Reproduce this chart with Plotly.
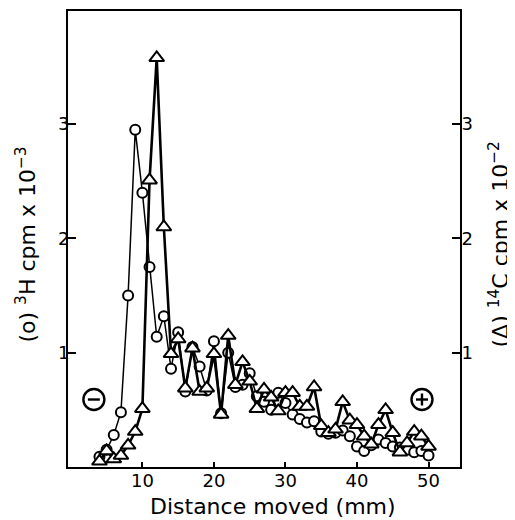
import plotly.graph_objects as go

distance_mm = list(range(4, 51))

h3_cpm_e3 = [0.09, 0.15, 0.28, 0.48, 1.50, 2.95, 2.40, 1.75, 1.14, 1.32,
             0.86, 1.18, 0.66, 1.05, 0.88, 0.67, 1.10, 0.47, 1.00, 0.70,
             0.72, 0.82, 0.62, 0.57, 0.50, 0.65, 0.56, 0.46, 0.42, 0.39,
             0.40, 0.31, 0.29, 0.30, 0.32, 0.27, 0.18, 0.14, 0.19, 0.24,
             0.21, 0.18, 0.17, 0.15, 0.13, 0.14, 0.10]

c14_cpm_e2 = [0.05, 0.14, 0.07, 0.10, 0.19, 0.31, 0.51, 2.51, 3.58, 2.10,
              0.99, 1.12, 0.69, 1.04, 0.66, 0.69, 0.99, 0.46, 1.15, 0.72,
              0.92, 0.75, 0.51, 0.68, 0.61, 0.49, 0.65, 0.65, 0.53, 0.53,
              0.70, 0.36, 0.30, 0.33, 0.57, 0.41, 0.37, 0.27, 0.20, 0.37,
              0.50, 0.30, 0.13, 0.21, 0.31, 0.27, 0.18]

x_ticks = [10, 20, 30, 40, 50]
y_ticks = [1, 2, 3]

FONT = "DejaVu Sans"

fig = go.Figure()
fig.add_trace(go.Scatter(
    x=distance_mm, y=h3_cpm_e3, mode="lines+markers",
    line=dict(color="black", width=1.5),
    marker=dict(symbol="circle", size=10, color="white",
                line=dict(color="black", width=2)),
    showlegend=False))
fig.add_trace(go.Scatter(
    x=distance_mm, y=c14_cpm_e2, mode="lines+markers", yaxis="y2",
    line=dict(color="black", width=2.6),
    marker=dict(symbol="triangle-up", size=13, color="white",
                line=dict(color="black", width=2)),
    showlegend=False))

axis_common = dict(showline=True, linecolor="black", linewidth=1.8,
                   ticks="inside", tickcolor="black", tickwidth=1.8,
                   showgrid=False, zeroline=False,
                   tickfont=dict(family=FONT, size=18, color="black"))

fig.update_layout(
    width=507, height=512,
    margin=dict(l=60, r=55, t=1, b=53),
    paper_bgcolor="white", plot_bgcolor="white",
    xaxis=dict(range=[-0.4, 54.4], tickvals=x_ticks, ticklen=5,
               mirror=True, ticklabelstandoff=-4, **axis_common),
    yaxis=dict(range=[0, 3.99], tickvals=y_ticks, ticklen=8,
               ticklabelstandoff=-7, **axis_common),
    yaxis2=dict(range=[0, 3.99], tickvals=y_ticks, ticklen=8, overlaying="y",
                side="right", ticklabelstandoff=-4, **axis_common),
    font=dict(family=FONT, color="black"),
)

fig.add_annotation(text="Distance moved (mm)", xref="paper", yref="paper",
                   x=0.524, y=-0.087, xanchor="center", yanchor="middle",
                   showarrow=False, font=dict(family=FONT, size=22))
fig.add_annotation(text="(o) <sup>3</sup>H cpm x 10<sup>\u22123</sup>",
                   xref="paper", yref="paper", x=-0.107, y=0.488,
                   xanchor="center", yanchor="middle", textangle=-90,
                   showarrow=False, font=dict(family=FONT, size=22))
fig.add_annotation(text="(\u0394) <sup>14</sup>C cpm x 10<sup>\u22122</sup>",
                   xref="paper", yref="paper", x=1.0995, y=0.488,
                   xanchor="center", yanchor="middle", textangle=-90,
                   showarrow=False, font=dict(family=FONT, size=22))

# electrode polarity symbols
for px, plus in [(0.066, False), (0.903, True)]:
    fig.add_shape(type="circle", xref="paper", yref="paper",
                  xsizemode="pixel", ysizemode="pixel",
                  xanchor=px, yanchor=0.148, x0=-10.5, x1=10.5, y0=-10.5, y1=10.5,
                  line=dict(color="black", width=2.4))
    fig.add_shape(type="line", xref="paper", yref="paper",
                  xsizemode="pixel", ysizemode="pixel",
                  xanchor=px, yanchor=0.148, x0=-6, x1=6, y0=0, y1=0,
                  line=dict(color="black", width=2.4))
    if plus:
        fig.add_shape(type="line", xref="paper", yref="paper",
                      xsizemode="pixel", ysizemode="pixel",
                      xanchor=px, yanchor=0.148, x0=0, x1=0, y0=-6, y1=6,
                      line=dict(color="black", width=2.4))

fig.write_html("out.html")
